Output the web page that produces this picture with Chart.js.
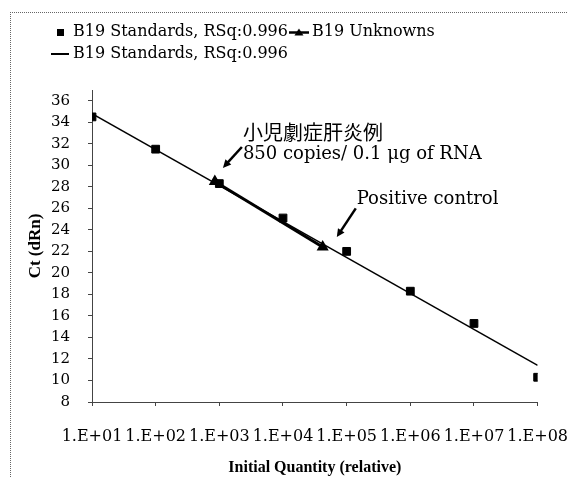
<!DOCTYPE html>
<html>
<head>
<meta charset="utf-8">
<script src="https://cdn.jsdelivr.net/npm/chart.js@4.4.0/dist/chart.umd.min.js"></script>
<style>
  html, body { margin: 0; padding: 0; background: #fff; overflow: hidden; }
  #wrap { position: relative; width: 568px; height: 477px; }
  #frame { position: absolute; left: 10px; top: 12px; width: 600px; height: 500px;
           border-top: 1px dotted #666; border-left: 1px dotted #666; }
  canvas { position: absolute; left: 0; top: 0; }
</style>
</head>
<body>
<div id="wrap"><div id="frame"></div><canvas id="myChart" width="568" height="477"></canvas></div>
<script>
// valores
var standardsX = [1e1, 1e2, 1e3, 1e4, 1e5, 1e6, 1e7, 1e8];
var standardsCt = [34.5, 31.5, 28.3, 25.1, 22.0, 18.3, 15.3, 10.3];
var unknownsX = [850, 42000];
var unknownsCt = [28.5, 22.4];
var trendX = [1e1, 1e8];
var trendCt = [34.8, 11.4];
var xTicks = [1e1, 1e2, 1e3, 1e4, 1e5, 1e6, 1e7, 1e8];
var xTickLabels = ['1.E+01', '1.E+02', '1.E+03', '1.E+04', '1.E+05', '1.E+06', '1.E+07', '1.E+08'];
var yTicks = [8, 10, 12, 14, 16, 18, 20, 22, 24, 26, 28, 30, 32, 34, 36];

function pts(xs, ys) {
    return xs.map(function (v, i) { return { x: v, y: ys[i] }; });
}

// ícones da legenda
function makeIcon(w, h, draw) {
    var c = document.createElement('canvas');
    c.width = w; c.height = h;
    var g = c.getContext('2d');
    g.fillStyle = '#000'; g.strokeStyle = '#000';
    draw(g);
    return c;
}
var legendIcons = [
    makeIcon(7, 7, function (g) { g.fillRect(0, 0, 7, 7); }),
    makeIcon(20, 8, function (g) {
        g.lineWidth = 2.5;
        g.beginPath(); g.moveTo(0, 4.5); g.lineTo(20, 4.5); g.stroke();
        g.beginPath(); g.moveTo(10, 0.5); g.lineTo(14.5, 7.5); g.lineTo(5.5, 7.5); g.closePath(); g.fill();
    }),
    makeIcon(18, 2, function (g) { g.fillRect(0, 0, 18, 2); })
];

var serif = 'DejaVu Serif';
var titleFont = 'Liberation Serif';

function arrow(ctx, x1, y1, x2, y2) {
    var a = Math.atan2(y2 - y1, x2 - x1), L = 9;
    ctx.beginPath();
    ctx.moveTo(x1, y1);
    ctx.lineTo(x2 - Math.cos(a) * 5, y2 - Math.sin(a) * 5);
    ctx.stroke();
    ctx.beginPath();
    ctx.moveTo(x2, y2);
    ctx.lineTo(x2 - L * Math.cos(a - 0.45), y2 - L * Math.sin(a - 0.45));
    ctx.lineTo(x2 - L * Math.cos(a + 0.45), y2 - L * Math.sin(a + 0.45));
    ctx.closePath();
    ctx.fill();
}

var annotations = {
    id: 'annotations',
    afterDatasetsDraw: function (chart) {
        var ctx = chart.ctx, xs = chart.scales.x, ys = chart.scales.y;
        function px(v) { return xs.getPixelForValue(v); }
        function py(v) { return ys.getPixelForValue(v); }
        ctx.save();
        ctx.fillStyle = '#000';
        ctx.strokeStyle = '#000';
        ctx.lineWidth = 2.5;
        ctx.textBaseline = 'middle';
        ctx.textAlign = 'left';
        ctx.font = '20px "Noto Sans CJK JP"';
        ctx.fillText('小児劇症肝炎例', px(2345), py(33.1));
        ctx.font = '18px "' + serif + '"';
        ctx.fillText('850 copies/ 0.1 μg of RNA', px(2345), py(31.0));
        ctx.fillText('Positive control', px(1.44e5), py(26.8));
        arrow(ctx, px(2260), py(31.7), px(1138), py(29.76));
        arrow(ctx, px(1.39e5), py(26.0), px(7.0e4), py(23.33));
        ctx.restore();
    }
};

var legendTweak = {
    id: 'legendTweak',
    beforeInit: function (chart) {
        var fit = chart.legend.fit;
        chart.legend.fit = function () {
            fit.bind(chart.legend)();
            this.height += 18;
        };
    },
    afterLayout: function (chart) {
        chart.legend.left = 49;
    }
};

var ctx = document.getElementById('myChart').getContext('2d');
var myChart = new Chart(ctx, {
    type: 'scatter',
    data: {
        datasets: [{
            label: 'B19 Standards, RSq:0.996',
            data: pts(standardsX, standardsCt),
            pointStyle: 'rect',
            pointRadius: 5.5,
            backgroundColor: '#000',
            borderColor: '#000',
            showLine: false
        }, {
            label: 'B19 Unknowns',
            data: pts(unknownsX, unknownsCt),
            pointStyle: 'triangle',
            pointRadius: 4,
            backgroundColor: '#000',
            borderColor: '#000',
            borderWidth: 3,
            showLine: true
        }, {
            label: 'B19 Standards, RSq:0.996',
            data: pts(trendX, trendCt),
            pointRadius: 0,
            borderColor: '#000',
            borderWidth: 1.5,
            showLine: true
        }]
    },
    options: {
        responsive: false,
        animation: false,
        layout: { padding: { top: 18, left: 0, bottom: 0, right: 0 } },
        plugins: {
            tooltip: { enabled: false },
            legend: {
                position: 'top',
                align: 'start',
                labels: {
                    usePointStyle: true,
                    pointStyleWidth: 10,
                    boxHeight: 16,
                    padding: 6,
                    color: '#000',
                    font: { family: serif, size: 16 },
                    generateLabels: function (chart) {
                        return chart.data.datasets.map(function (ds, i) {
                            return { text: ds.label, pointStyle: legendIcons[i], datasetIndex: i,
                                     hidden: false, fillStyle: '#000', strokeStyle: '#000', lineWidth: 0 };
                        });
                    }
                }
            }
        },
        scales: {
            x: {
                type: 'logarithmic',
                min: 1e1,
                max: 1e8,
                afterBuildTicks: function (s) { s.ticks = xTicks.map(function (v) { return { value: v }; }); },
                afterFit: function (s) { s.height = 75; },
                ticks: {
                    autoSkip: false,
                    maxRotation: 0,
                    padding: 0,
                    color: '#000',
                    font: { family: serif, size: 16, lineHeight: 1.3 },
                    // linha vazia em cima para descer o rótulo
                    callback: function (v) { var i = xTicks.indexOf(v); return i >= 0 ? ['', xTickLabels[i]] : ''; }
                },
                grid: { drawOnChartArea: false, drawTicks: true, tickLength: 4, color: '#444' },
                border: { display: true, dash: [1, 1], color: '#444' },
                title: {
                    display: true,
                    text: 'Initial Quantity (relative)',
                    color: '#000',
                    font: { family: titleFont, size: 16, weight: 'bold' },
                    padding: { top: 0, bottom: 0 }
                }
            },
            y: {
                min: 8,
                max: 37,
                afterBuildTicks: function (s) { s.ticks = yTicks.map(function (v) { return { value: v }; }); },
                afterFit: function (s) { s.width = 92; },
                ticks: {
                    padding: 18,
                    color: '#000',
                    font: { family: serif, size: 15 }
                },
                grid: { drawOnChartArea: false, drawTicks: true, tickLength: 4, color: '#444' },
                border: { display: true, dash: [1, 1], color: '#444' },
                title: {
                    display: true,
                    text: 'Ct (dRn)',
                    color: '#000',
                    font: { family: titleFont, size: 17, weight: 'bold' },
                    padding: { top: 25, bottom: 0 }
                }
            }
        }
    },
    plugins: [annotations, legendTweak]
});
</script>
</body>
</html>
